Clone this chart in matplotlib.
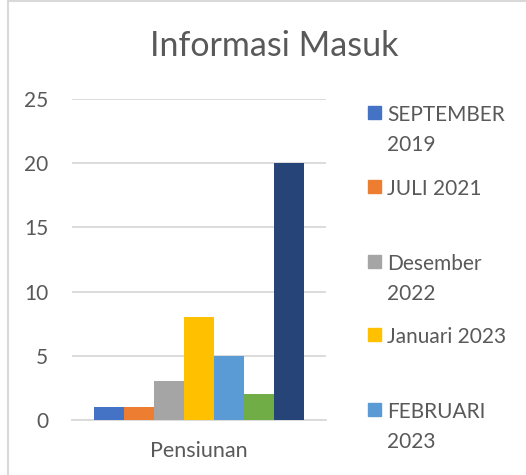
import matplotlib.pyplot as plt
from matplotlib.patches import Rectangle

# Dados do gráfico
categoria = 'Pensiunan'
series = ['SEPTEMBER\n2019', 'JULI 2021', 'Desember\n2022', 'Januari 2023',
          'FEBRUARI\n2023', '', '']
valores = [1, 1, 3, 8, 5, 2, 20]
cores = ['#4472C4', '#ED7D31', '#A5A5A5', '#FFC000', '#5B9BD5', '#70AD47', '#264478']
yticks = [0, 5, 10, 15, 20, 25]

plt.rcParams['font.family'] = ['Lato', 'DejaVu Sans']
texto = '#595959'

fig = plt.figure(figsize=(5.26, 4.75), dpi=100)
ax = fig.add_axes([72 / 526, 1 - 420 / 475, (326 - 72) / 526, (420 - 99) / 475])

pos = list(range(len(valores)))
ax.bar(pos, valores, width=1.0, color=cores, zorder=3)

ax.set_ylim(0, 25)
ax.set_xlim(-0.5 - 0.733, len(valores) - 0.5 + 0.733)
ax.set_yticks(yticks)
ax.set_yticklabels([str(t) for t in yticks], fontsize=15, color=texto)
ax.set_xticks([(len(valores) - 1) / 2])
ax.set_xticklabels([categoria], fontsize=15.5, color=texto)
ax.tick_params(axis='y', length=0, pad=17)
ax.tick_params(axis='x', length=0, pad=15)
ax.grid(axis='y', color='#D9D9D9', linewidth=1.3, zorder=0)
for s in ['top', 'right', 'left']:
    ax.spines[s].set_visible(False)
ax.spines['bottom'].set_color('#D9D9D9')
ax.spines['bottom'].set_linewidth(1.3)

fig.text(274 / 526, 1 - 46 / 475, 'Informasi Masuk', fontsize=24.5, color=texto,
         ha='center', va='center')

# Legenda (cortada como no original)
legenda_y = [113, 187, 262, 335, 410]
for nome, cor, y in zip(series[:5], cores[:5], legenda_y):
    fig.patches.append(Rectangle((368 / 526, 1 - (y + 6) / 475), 13 / 526, 13 / 475,
                                 transform=fig.transFigure, color=cor))
    fig.text(387 / 526, 1 - (y - 8) / 475, nome, fontsize=15, color=texto,
             ha='left', va='top', linespacing=1.62)

# Borda da área do gráfico
fig.patches.append(Rectangle((7.5 / 526, -0.1), 1.2, 1.1 - 1 / 475, transform=fig.transFigure,
                             fill=False, edgecolor='#D9D9D9', linewidth=1.5))

fig.savefig('out.png', dpi=100)
